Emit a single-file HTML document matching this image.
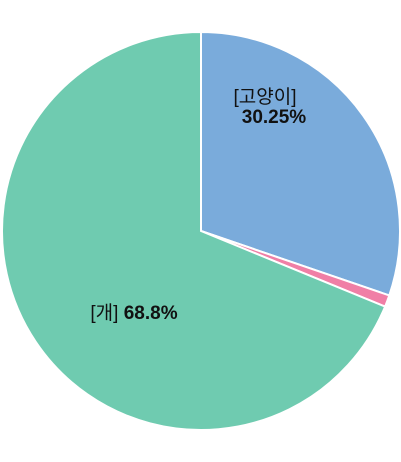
<!DOCTYPE html>
<html><head><meta charset="utf-8"><style>
html,body{margin:0;padding:0;background:#fff;}
svg{display:block;}
text{font-family:"Liberation Sans","Noto Sans CJK KR",sans-serif;font-size:19px;fill:#111;}
</style></head><body>
<svg id="chart" width="401" height="462"></svg>
<script>
const categories = ["고양이", "기타", "개"];
const values = [30.25, 0.95, 68.8];
const colors = ["#7aabdb", "#f07fa6", "#6fcbb0"];

const svg = document.getElementById('chart');
const NS = 'http://www.w3.org/2000/svg';
const cx = 201, cy = 231, r = 199;
const total = values.reduce((a, b) => a + b, 0);
function pt(frac, rr) {
  const a = frac * 2 * Math.PI - Math.PI / 2;
  return [cx + rr * Math.cos(a), cy + rr * Math.sin(a)];
}
let acc = 0;
values.forEach((v, i) => {
  const f0 = acc / total, f1 = (acc + v) / total;
  acc += v;
  const [x0, y0] = pt(f0, r), [x1, y1] = pt(f1, r);
  const large = (f1 - f0) > 0.5 ? 1 : 0;
  const p = document.createElementNS(NS, 'path');
  p.setAttribute('d', `M${cx},${cy} L${x0},${y0} A${r},${r} 0 ${large} 1 ${x1},${y1} Z`);
  p.setAttribute('fill', colors[i]);
  p.setAttribute('stroke', '#fff');
  p.setAttribute('stroke-width', '2');
  
  
  svg.appendChild(p);
});
const t1 = document.createElementNS(NS, 'text');
t1.setAttribute('x', 265); t1.setAttribute('y', 103); t1.setAttribute('text-anchor', 'middle');


t1.innerHTML = `<tspan x="265">[${categories[0]}]</tspan><tspan x="274" dy="20" font-weight="bold">${values[0].toFixed(2)}%</tspan>`;
svg.appendChild(t1);
const t2 = document.createElementNS(NS, 'text');
t2.setAttribute('x', 134); t2.setAttribute('y', 319); t2.setAttribute('text-anchor', 'middle');


t2.innerHTML = `[${categories[2]}] <tspan font-weight="bold">${values[2]}%</tspan>`;
svg.appendChild(t2);
</script>
</body></html>
